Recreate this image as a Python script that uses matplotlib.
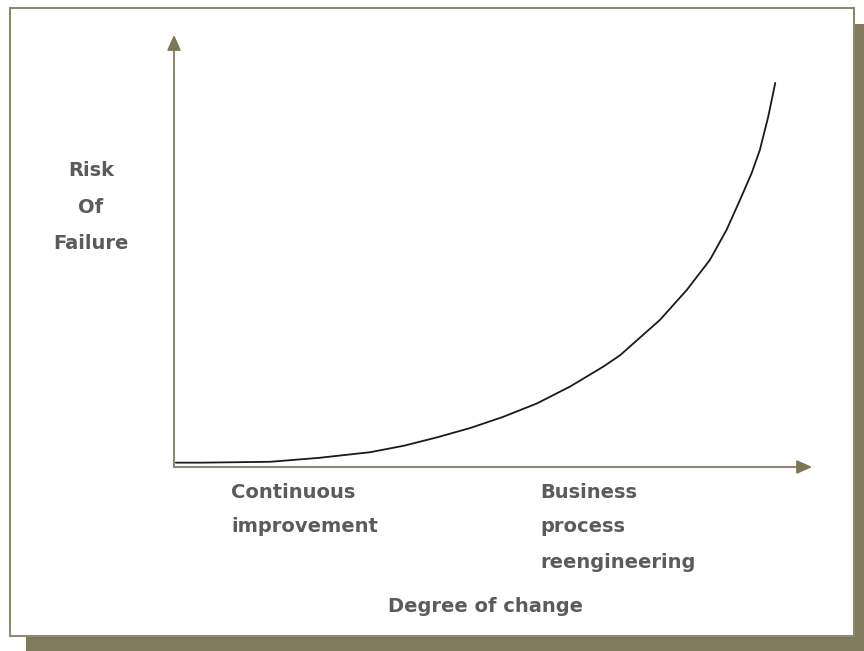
import matplotlib
matplotlib.use("Agg")
import matplotlib.pyplot as plt
from matplotlib.patches import Rectangle

W, H = 864, 651
# curve data (degree of change vs risk of failure)
change = [0.3, 4.5, 15.0, 22.6, 30.6, 35.9, 41.0, 46.3, 51.3, 56.6, 61.8, 67.0,
          69.6, 75.8, 80.0, 83.6, 86.2, 88.3, 90.1, 91.4, 92.7, 93.8]
risk = [1.0, 1.0, 1.2, 2.1, 3.4, 4.9, 6.8, 9.0, 11.5, 14.6, 18.5, 23.1,
        25.7, 33.8, 40.7, 47.6, 54.5, 61.4, 67.5, 72.9, 80.5, 88.3]

y_label = ["Risk", "Of", "Failure"]
x_left_label = ["Continuous", "improvement"]
x_right_label = ["Business", "process", "reengineering"]
x_title = "Degree of change"

TXT = "#5b5b5b"
AX = "#8c8a70"
ARROW = "#7b7857"
SHADOW = "#7f7a5c"

fig = plt.figure(figsize=(W / 100, H / 100), dpi=100)
fig.patch.set_facecolor("white")

def fx(px):
    return px / W

def fy(py):
    return 1 - py / H

# shadow and box
fig.patches.append(Rectangle((fx(26), fy(651)), fx(864) - fx(26), fy(24) - fy(651),
                             transform=fig.transFigure, facecolor=SHADOW, edgecolor="none", zorder=0))
fig.patches.append(Rectangle((fx(10), fy(636)), fx(854) - fx(10), fy(8) - fy(636),
                             transform=fig.transFigure, facecolor="white", edgecolor=AX,
                             linewidth=1.5, zorder=1))

# axes spanning the plot area
x0, x1, ytop, ybot = 174, 815, 32, 467
ax = fig.add_axes([fx(x0), fy(ybot), fx(x1) - fx(x0), fy(ytop) - fy(ybot)], zorder=5)
ax.set_xlim(0, 100)
ax.set_ylim(0, 100)
ax.axis("off")
ax.patch.set_alpha(0)

ax.plot(change, risk, color="#1a1a1a", linewidth=1.3, solid_capstyle="round",
        solid_joinstyle="round", zorder=3)

# axis lines with arrow heads
ax.plot([0, 97.6], [0, 0], color=AX, linewidth=1.5, clip_on=False, zorder=2)
ax.plot([0, 0], [0, 96.5], color=AX, linewidth=1.5, clip_on=False, zorder=2)
ax.annotate("", xy=(100, 0), xytext=(97.5, 0),
            arrowprops=dict(arrowstyle="-|>,head_length=0.9,head_width=0.4", color=ARROW, lw=1.5),
            annotation_clip=False)
ax.annotate("", xy=(0, 100), xytext=(0, 96),
            arrowprops=dict(arrowstyle="-|>,head_length=0.9,head_width=0.4", color=ARROW, lw=1.5),
            annotation_clip=False)

font = dict(family=["DejaVu Sans"], weight="bold", color=TXT, fontsize=14)

for i, t in enumerate(y_label):
    fig.text(fx(91), fy(171 + i * 36), t, ha="center", va="center", zorder=6, **font)
for i, t in enumerate(x_left_label):
    fig.text(fx(231), fy(492 + i * 35), t, ha="left", va="center", zorder=6, **font)
for i, t in enumerate(x_right_label):
    fig.text(fx(540), fy(492 + i * 35), t, ha="left", va="center", zorder=6, **font)
fig.text(fx(486), fy(606), x_title, ha="center", va="center", zorder=6, **font)

fig.savefig("out.png", dpi=100, facecolor="white")
